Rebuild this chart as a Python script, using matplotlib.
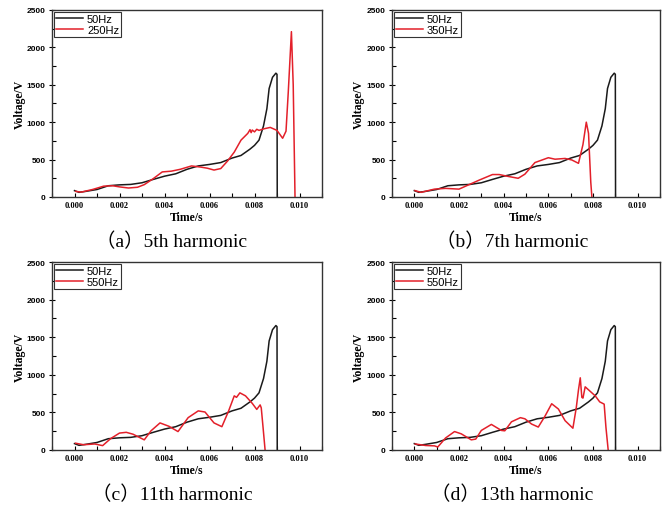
import numpy as np
import matplotlib.pyplot as plt
from matplotlib.ticker import MultipleLocator

# 50Hz reference curve (same in all panels), time in ms
t_50 = [0, 0.2, 0.5, 1.0, 1.5, 2.0, 2.5, 3.0, 3.5, 4.0, 4.5, 5.0, 5.5, 6.0, 6.5,
        7.0, 7.4, 7.8, 8.0, 8.2, 8.4, 8.55, 8.65, 8.8, 8.95, 9.0, 9.01]
v_50 = [85, 62, 75, 100, 150, 162, 168, 190, 235, 278, 310, 370, 415, 435, 460,
        520, 555, 640, 690, 760, 950, 1180, 1450, 1600, 1655, 1640, 0]

# harmonic curves
t_250 = [0.05, 0.3, 0.8, 1.3, 1.7, 2.0, 2.4, 2.8, 3.1, 3.5, 3.9, 4.3, 4.7, 5.2, 5.6,
         5.9, 6.2, 6.5, 6.8, 7.1, 7.4, 7.6, 7.7, 7.8, 7.85, 7.9, 8.0, 8.1, 8.2, 8.4,
         8.7, 9.0, 9.25, 9.4, 9.5, 9.64, 9.72, 9.8]
v_250 = [75, 65, 100, 145, 150, 135, 120, 130, 165, 245, 335, 345, 370, 415, 400,
         385, 360, 380, 480, 600, 760, 820, 850, 900, 860, 895, 870, 905, 890, 910,
         930, 890, 785, 880, 1400, 2210, 1500, 0]

t_350 = [0.03, 0.3, 0.9, 1.4, 2.0, 2.3, 2.9, 3.5, 3.8, 4.2, 4.65, 4.95, 5.4, 6.0,
         6.3, 6.75, 7.05, 7.35, 7.55, 7.7, 7.8, 7.9, 7.95]
v_350 = [85, 62, 105, 115, 105, 145, 225, 300, 300, 275, 250, 305, 460, 525,
         505, 515, 495, 450, 700, 1000, 850, 200, 0]

t_550c = [0.05, 0.4, 0.9, 1.25, 1.6, 2.0, 2.3, 2.6, 3.1, 3.4, 3.8, 4.2, 4.6, 5.05,
          5.5, 5.8, 6.2, 6.55, 6.85, 7.1, 7.2, 7.35, 7.6, 7.9, 8.1, 8.25, 8.3, 8.38, 8.47]
v_550c = [90, 70, 80, 58, 150, 225, 235, 210, 135, 255, 360, 315, 245, 430,
          520, 505, 360, 310, 520, 720, 700, 760, 720, 620, 540, 600, 560, 300, 0]

t_550d = [0.04, 0.5, 0.9, 1.05, 1.4, 1.8, 2.1, 2.55, 2.75, 3.0, 3.45, 3.9, 4.05, 4.35,
          4.75, 4.95, 5.25, 5.55, 5.85, 6.15, 6.45, 6.75, 7.1, 7.25, 7.35, 7.43, 7.5,
          7.55, 7.65, 7.8, 8.1, 8.3, 8.5, 8.58, 8.68]
v_550d = [80, 60, 55, 40, 160, 245, 215, 135, 145, 260, 340, 260, 255, 375,
          430, 415, 345, 305, 450, 615, 545, 390, 290, 560, 800, 960, 700,
          690, 840, 800, 720, 640, 610, 300, 0]

panels = [
    ('250Hz', t_250, v_250, '（a）5th harmonic'),
    ('350Hz', t_350, v_350, '（b）7th harmonic'),
    ('550Hz', t_550c, v_550c, '（c）11th harmonic'),
    ('550Hz', t_550d, v_550d, '（d）13th harmonic'),
]

boxes = [[0.0775, 0.6118, 0.4024, 0.3667],
         [0.5842, 0.6118, 0.3994, 0.3667],
         [0.0775, 0.1157, 0.4024, 0.3686],
         [0.5842, 0.1157, 0.3994, 0.3686]]
cap_pos = [(172 / 671, 1 - 242 / 510), (512 / 671, 1 - 242 / 510),
           (172 / 671, 1 - 495 / 510), (512 / 671, 1 - 495 / 510)]

serif = ['Liberation Serif', 'Noto Sans CJK SC']

fig = plt.figure(figsize=(6.71, 5.10), dpi=100)

for (name, t, v, cap), box, cp in zip(panels, boxes, cap_pos):
    ax = fig.add_axes(box)
    ax.plot(np.array(t_50) / 1000, v_50, color='#1a1a1a', lw=1.1, label='50Hz')
    ax.plot(np.array(t) / 1000, v, color='#e3202a', lw=1.1, label=name)
    ax.set_xlim(-0.001, 0.011)
    ax.set_ylim(0, 2500)
    ax.set_xticks([0, 0.002, 0.004, 0.006, 0.008, 0.010])
    ax.set_xticklabels(['0.000', '0.002', '0.004', '0.006', '0.008', '0.010'])
    ax.set_yticks([0, 500, 1000, 1500, 2000, 2500])
    ax.xaxis.set_minor_locator(MultipleLocator(0.001))
    ax.yaxis.set_minor_locator(MultipleLocator(250))
    ax.tick_params(axis='x', which='both', direction='in', length=3, width=0.8, pad=3)
    ax.tick_params(axis='y', which='major', direction='inout', length=5, width=0.8, pad=2)
    ax.tick_params(axis='y', which='minor', direction='in', length=3, width=0.8)
    for lab in ax.get_xticklabels():
        lab.set_family('Liberation Serif')
        lab.set_fontweight('bold')
        lab.set_fontsize(6)
    for lab in ax.get_yticklabels():
        lab.set_family('Liberation Sans')
        lab.set_fontweight('bold')
        lab.set_fontsize(6)
    for s in ax.spines.values():
        s.set_linewidth(1.0)
        s.set_color('#333333')
    ax.set_xlabel('Time/s', family='Liberation Serif', fontweight='bold',
                  fontsize=8.5, labelpad=1)
    ax.set_ylabel('Voltage/V', family='Liberation Serif', fontweight='bold',
                  fontsize=8.5, labelpad=1)
    leg = ax.legend(loc='upper left', prop={'family': 'Liberation Sans', 'size': 8},
                    fancybox=False, framealpha=1, edgecolor='#333333',
                    borderpad=0.2, labelspacing=0.1, handlelength=2.4,
                    handletextpad=0.4, borderaxespad=0.15)
    leg.get_frame().set_linewidth(0.8)
    fig.text(cp[0], cp[1], cap, family=serif, fontsize=14,
             ha='center', va='center')

fig.savefig('out.png', dpi=100)
